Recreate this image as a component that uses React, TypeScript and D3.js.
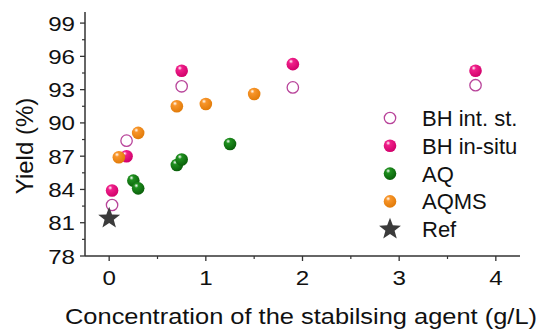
import React from 'react';
import * as d3 from 'd3';

const bhIntX = [0.03, 0.18, 0.75, 1.9, 3.79];
const bhIntY = [82.6, 88.4, 93.3, 93.2, 93.4];
const bhInsituX = [0.03, 0.18, 0.75, 1.9, 3.79];
const bhInsituY = [83.9, 87.0, 94.7, 95.3, 94.7];
const aqX = [0.25, 0.3, 0.7, 0.75, 1.25];
const aqY = [84.8, 84.1, 86.2, 86.7, 88.1];
const aqmsX = [0.1, 0.3, 0.7, 1.0, 1.5];
const aqmsY = [86.9, 89.1, 91.5, 91.7, 92.6];
const refX = [0];
const refY = [81.4];

const xTicks = [0, 1, 2, 3, 4];
const yTicks = [78, 81, 84, 87, 90, 93, 96, 99];
const legendLabels = ['BH int. st.', 'BH in-situ', 'AQ', 'AQMS', 'Ref'];

const W = 547;
const H = 331;
const margin = { top: 12, right: 27, bottom: 75, left: 85 };
const font = 'Arial, "Liberation Sans", sans-serif';

const zip = (xs: number[], ys: number[]) => xs.map((x, i) => ({ x, y: ys[i] }));

function starPath(r: number) {
  const pts: [number, number][] = [];
  for (let i = 0; i < 10; i++) {
    const rad = i % 2 === 0 ? r : r * 0.42;
    const a = -Math.PI / 2 + (i * Math.PI) / 5;
    pts.push([rad * Math.cos(a), rad * Math.sin(a)]);
  }
  return d3.line()(pts) + 'Z';
}

export default function App() {
  const x = d3.scaleLinear().domain([-0.25, 4.25]).range([margin.left, W - margin.right]);
  const y = d3.scaleLinear().domain([78, 100]).range([H - margin.bottom, margin.top]);
  const x0 = x.range()[0];
  const y0 = y.range()[0];

  const xMinor = d3.range(0.5, 4.25, 1);
  const yMinor = d3.range(79.5, 100, 3);
  const r = 6.3;

  const legend = [
    { label: legendLabels[0], kind: 'open' },
    { label: legendLabels[1], kind: 'gMag' },
    { label: legendLabels[2], kind: 'gGreen' },
    { label: legendLabels[3], kind: 'gOrange' },
    { label: legendLabels[4], kind: 'star' },
  ];

  const grad = (id: string, c1: string, c2: string) => (
    <radialGradient id={id} cx="38%" cy="32%" r="70%" fx="35%" fy="28%">
      <stop offset="0%" stopColor="#ffffff" />
      <stop offset="25%" stopColor={c1} />
      <stop offset="100%" stopColor={c2} />
    </radialGradient>
  );

  const marker = (kind: string, cx: number, cy: number, key: string | number) => {
    if (kind === 'open')
      return <circle key={key} cx={cx} cy={cy} r={r - 0.6} fill="#fff" stroke="#b8449a" strokeWidth={1.3} />;
    if (kind === 'star') return <path key={key} d={starPath(11.5)} transform={`translate(${cx},${cy})`} fill="#3b3b3b" />;
    return <circle key={key} cx={cx} cy={cy} r={r} fill={`url(#${kind})`} />;
  };

  return (
    <svg width={W} height={H} style={{ position: 'absolute', left: 0, top: 0, background: '#fff' }} fontFamily={font}>
      <defs>
        {grad('gMag', '#f0208a', '#d0006a')}
        {grad('gGreen', '#1e901e', '#0a5e0a')}
        {grad('gOrange', '#f8952a', '#e07a08')}
      </defs>

      {/* axes */}
      <line x1={x0} x2={x0} y1={y0} y2={margin.top} stroke="#333" strokeWidth={1.5} />
      <line x1={x0} x2={W - margin.right} y1={y0} y2={y0} stroke="#333" strokeWidth={1.5} />
      {yTicks.map((t) => (
        <g key={t}>
          <line x1={x0 - 5} x2={x0} y1={y(t)} y2={y(t)} stroke="#333" strokeWidth={1.3} />
          <text
            transform={`translate(${x0 - 10},${y(t)}) scale(1.15,1)`}
            dy="0.36em"
            textAnchor="end"
            fontSize={21}
            fill="#111"
          >
            {t}
          </text>
        </g>
      ))}
      {yMinor.map((t) => (
        <line key={t} x1={x0 - 3} x2={x0} y1={y(t)} y2={y(t)} stroke="#333" strokeWidth={1.2} />
      ))}
      {xTicks.map((t) => (
        <g key={t}>
          <line x1={x(t)} x2={x(t)} y1={y0} y2={y0 + 5} stroke="#333" strokeWidth={1.3} />
          <text transform={`translate(${x(t)},${y0 + 29}) scale(1.15,1)`} textAnchor="middle" fontSize={21} fill="#111">
            {t}
          </text>
        </g>
      ))}
      {xMinor.map((t) => (
        <line key={t} x1={x(t)} x2={x(t)} y1={y0} y2={y0 + 3} stroke="#333" strokeWidth={1.2} />
      ))}

      <text x={65} y={323.5} textLength={472} lengthAdjust="spacingAndGlyphs" fontSize={22} fill="#111">
        Concentration of the stabilsing agent (g/L)
      </text>
      <text transform={`translate(33,146) rotate(-90)`} textAnchor="middle" fontSize={24} fill="#111">
        Yield (%)
      </text>

      {/* data */}
      {zip(bhIntX, bhIntY).map((d, i) => marker('open', x(d.x), y(d.y), 'a' + i))}
      {zip(bhInsituX, bhInsituY).map((d, i) => marker('gMag', x(d.x), y(d.y), 'b' + i))}
      {zip(aqX, aqY).map((d, i) => marker('gGreen', x(d.x), y(d.y), 'c' + i))}
      {zip(aqmsX, aqmsY).map((d, i) => marker('gOrange', x(d.x), y(d.y), 'd' + i))}
      {zip(refX, refY).map((d, i) => marker('star', x(d.x), y(d.y), 'e' + i))}

      {/* legend */}
      {legend.map((l, i) => {
        const ly = 118 + i * 27.8;
        return (
          <g key={l.label}>
            {marker(l.kind, 390, ly, 'l' + i)}
            <text x={422} y={ly} dy="0.36em" fontSize={22} fill="#111">
              {l.label}
            </text>
          </g>
        );
      })}
    </svg>
  );
}
